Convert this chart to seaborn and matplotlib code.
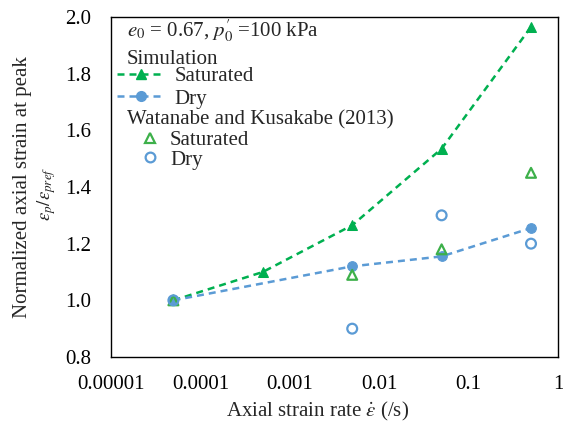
import matplotlib
matplotlib.use("Agg")
import matplotlib.pyplot as plt
import seaborn as sns
from matplotlib.lines import Line2D

# Data
sim_sat_rate = [5e-5, 5e-4, 5e-3, 5e-2, 0.5]
sim_sat_val = [1.0, 1.10, 1.265, 1.535, 1.965]
sim_dry_rate = [5e-5, 5e-3, 5e-2, 0.5]
sim_dry_val = [1.0, 1.12, 1.155, 1.255]
exp_sat_rate = [5e-5, 5e-3, 5e-2, 0.5]
exp_sat_val = [1.0, 1.09, 1.18, 1.45]
exp_dry_rate = [5e-5, 5e-3, 5e-2, 0.5]
exp_dry_val = [1.0, 0.90, 1.30, 1.20]
xticks = [1e-5, 1e-4, 1e-3, 1e-2, 1e-1, 1]
xtick_labels = ["0.00001", "0.0001", "0.001", "0.01", "0.1", "1"]
yticks = [0.8, 1.0, 1.2, 1.4, 1.6, 1.8, 2.0]

sns.set_style("white")
plt.rcParams['font.family'] = ['Liberation Serif', 'DejaVu Serif']
plt.rcParams['mathtext.fontset'] = 'stix'

FS = 15
green = "#00B050"
green_open = "#3DB04A"
blue = "#5B9BD5"
dash = (0, (2.8, 2.0))

fig = plt.figure(figsize=(5.63, 4.24), dpi=100)
ax = fig.add_axes([0.197, 0.158, 0.794, 0.802])

sns.lineplot(x=sim_sat_rate, y=sim_sat_val, ax=ax, color=green, linestyle=dash,
             linewidth=1.8, marker='^', markersize=7.5, markeredgecolor=green)
sns.lineplot(x=sim_dry_rate, y=sim_dry_val, ax=ax, color=blue, linestyle=dash,
             linewidth=1.8, marker='o', markersize=7, markeredgecolor=blue)
sns.scatterplot(x=exp_sat_rate, y=exp_sat_val, ax=ax, marker='^', s=50,
                facecolor='none', edgecolor=green_open, linewidth=1.6, zorder=4)
sns.scatterplot(x=exp_dry_rate, y=exp_dry_val, ax=ax, marker='o', s=50,
                facecolor='none', edgecolor=blue, linewidth=1.6, zorder=4)

ax.set_xscale('log')
ax.set_xlim(1e-5, 1)
ax.set_ylim(0.8, 2.0)
ax.set_xticks(xticks)
ax.set_xticklabels(xtick_labels)
ax.minorticks_off()
ax.set_yticks(yticks)
ax.set_yticklabels([f"{v:.1f}" for v in yticks])
ax.tick_params(axis='x', direction='in', length=4, width=1, labelsize=FS, pad=13, colors='black')
ax.tick_params(axis='y', direction='in', length=4, width=1, labelsize=FS, pad=14, colors='black')
for s in ax.spines.values():
    s.set_color('black')
    s.set_linewidth(1.0)

ax.set_xlabel(r"Axial strain rate $\dot{\varepsilon}$ (/s)", fontsize=FS)
ax.xaxis.set_label_coords(0.463, -0.125)
ax.set_ylabel("")
ax.text(-0.198, 0.5, "Normalized axial strain at peak", transform=ax.transAxes,
        rotation=90, ha='center', va='center', rotation_mode='anchor', fontsize=FS)
ax.text(-0.143, 0.48, r"$\varepsilon_p/\varepsilon_{pref}$", transform=ax.transAxes,
        rotation=90, ha='center', va='center', rotation_mode='anchor', fontsize=13.5)

# Legend text blocks
ax.text(0.035, 0.959, r"$e_0$ = 0.67, $p_0^{\prime}$ =100 kPa", transform=ax.transAxes,
        fontsize=FS, va='center', ha='left')
ax.text(0.035, 0.876, "Simulation", transform=ax.transAxes, fontsize=FS, va='center', ha='left')
ax.text(0.035, 0.697, "Watanabe and Kusakabe (2013)", transform=ax.transAxes,
        fontsize=FS, va='center', ha='left')

h1 = [Line2D([], [], color=green, linestyle=dash, linewidth=1.8, marker='^', markersize=7.5),
      Line2D([], [], color=blue, linestyle=dash, linewidth=1.8, marker='o', markersize=7)]
leg1 = ax.legend(h1, ["Saturated", "Dry"], loc='upper left', bbox_to_anchor=(0.013, 0.855),
                 frameon=False, fontsize=FS, handlelength=2.3, handletextpad=0.48,
                 labelspacing=0.16, borderpad=0.0, borderaxespad=0.0)
ax.add_artist(leg1)
h2 = [Line2D([], [], color=green_open, linestyle='none', marker='^', markersize=7.5,
             markerfacecolor='none', markeredgewidth=1.6),
      Line2D([], [], color=blue, linestyle='none', marker='o', markersize=7,
             markerfacecolor='none', markeredgewidth=1.6)]
ax.legend(h2, ["Saturated", "Dry"], loc='upper left', bbox_to_anchor=(0.064, 0.666),
          frameon=False, fontsize=FS, handlelength=1.0, handletextpad=0.46,
          labelspacing=0.0, borderpad=0.0, borderaxespad=0.0)

fig.savefig("out.png", dpi=100)
